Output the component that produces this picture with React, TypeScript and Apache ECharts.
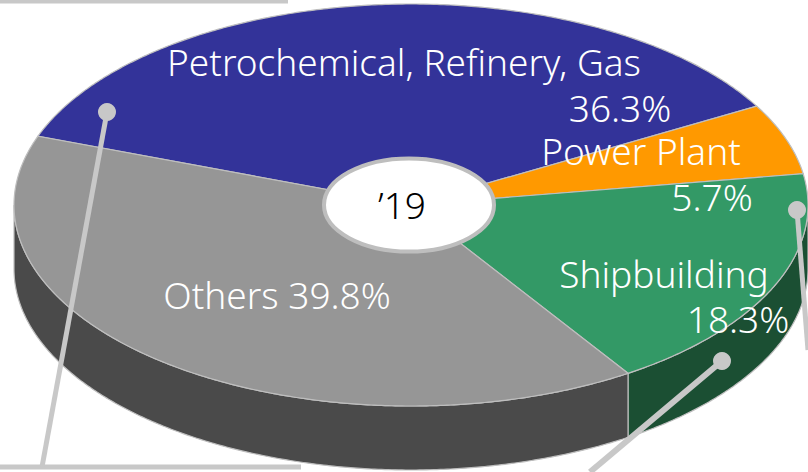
import React, { useEffect, useRef } from "react";
import * as echarts from "echarts";

const categories = ["Petrochemical, Refinery, Gas", "Power Plant", "Shipbuilding", "Others"];
const shares = [36.3, 5.7, 18.3, 39.8];
const topColors = ["#333399", "#FF9900", "#339966", "#969696"];
const wallColors = ["#262673", "#BF7300", "#1B4F33", "#4A4A4A"];
const centerLabel = "’19";

const CX = 411;
const CY = 205;
const RX = 397;
const RY = 201;
const DEPTH = 64;
const START_DEG = 160.0;
const EDGE = "#BEBEBE";
const LEADER = "#C8C8C8";
const FONT = "'Noto Sans', 'Open Sans', sans-serif";

const total = shares.reduce((a, b) => a + b, 0);
const angleRange = (idx: number) => {
  const before = shares.slice(0, idx).reduce((a, b) => a + b, 0);
  return [START_DEG - (before / total) * 360, START_DEG - ((before + shares[idx]) / total) * 360];
};
const pt = (deg: number, dy = 0) => {
  const r = (deg * Math.PI) / 180;
  return [CX + RX * Math.cos(r), CY - RY * Math.sin(r) + dy];
};
const arc = (from: number, to: number, dy = 0) => {
  const n = Math.max(2, Math.ceil(Math.abs(to - from) * 2));
  const out: number[][] = [];
  for (let i = 0; i <= n; i++) out.push(pt(from + ((to - from) * i) / n, dy));
  return out;
};

const renderWall = (_: any, api: any) => {
  const idx = api.value(0);
  const [a, b] = angleRange(idx);
  const from = Math.min(a, 0);
  const to = Math.max(b, -180);
  const children: any[] = [];
  if (from > to) {
    children.push({
      type: "polygon",
      shape: { points: [...arc(from, to), ...arc(to, from, DEPTH)] },
      style: { fill: wallColors[idx], stroke: EDGE, lineWidth: 1.2 },
    });
  }
  return { type: "group", children };
};

const renderTop = (_: any, api: any) => {
  const idx = api.value(0);
  const [a, b] = angleRange(idx);
  return {
    type: "polygon",
    shape: { points: [[CX, CY], ...arc(a, b)] },
    style: { fill: topColors[idx], stroke: EDGE, lineWidth: 1.2 },
  };
};

const text = (s: string, x: number, y: number, fill = "#FFFFFF") => ({
  type: "text",
  z: 120,
  x,
  y,
  style: { text: s, fill, font: `300 37px ${FONT}`, lineHeight: 38, align: "center", verticalAlign: "middle" },
});
const leader = (points: number[][], width = 5) => ({
  type: "polyline",
  z: 110,
  shape: { points },
  style: { stroke: LEADER, lineWidth: width, fill: "none" },
});
const dot = (x: number, y: number) => ({
  type: "circle",
  z: 111,
  shape: { cx: x, cy: y, r: 9 },
  style: { fill: LEADER },
});

export default function App() {
  const ref = useRef<HTMLDivElement>(null);
  useEffect(() => {
    const chart = echarts.init(ref.current!, undefined, { renderer: "svg" });
    const seriesData = shares.map((v, i) => ({ name: categories[i], value: [i, v] }));
    chart.setOption({
      animation: false,
      backgroundColor: "#FFFFFF",
      series: [
        { type: "custom", coordinateSystem: "none", z: 2, renderItem: renderWall, data: seriesData, silent: true },
        { type: "custom", coordinateSystem: "none", z: 3, renderItem: renderTop, data: seriesData, silent: true },
      ],
      graphic: [
        leader([[0, 1], [288, 1]], 5),
        leader([[0, 467], [301, 467]], 5),
        leader([[42, 467], [107, 112]], 5),
        leader([[722, 361], [590, 472]], 6),
        leader([[797, 210], [808, 350]], 5),
        dot(107, 112),
        dot(722, 361),
        dot(797, 210),
        {
          type: "ellipse",
          z: 112,
          shape: { cx: 409, cy: 205, rx: 85, ry: 46.5 },
          style: { fill: "#FFFFFF", stroke: "#BEBEBE", lineWidth: 4 },
        },
        text(categories[0], 404, 61),
        text(`${shares[0].toFixed(1)}%`, 620, 107),
        text(categories[1], 641, 150),
        text(`${shares[1].toFixed(1)}%`, 712, 196),
        text(categories[2], 664, 273),
        text(`${shares[2].toFixed(1)}%`, 738, 318),
        text(`${categories[3]} ${shares[3].toFixed(1)}%`, 277, 294),
        text(centerLabel, 402, 204, "#000000"),
      ],
    });
    return () => chart.dispose();
  }, []);
  return <div ref={ref} style={{ position: "fixed", left: 0, top: 0, width: 808, height: 472 }} />;
}
